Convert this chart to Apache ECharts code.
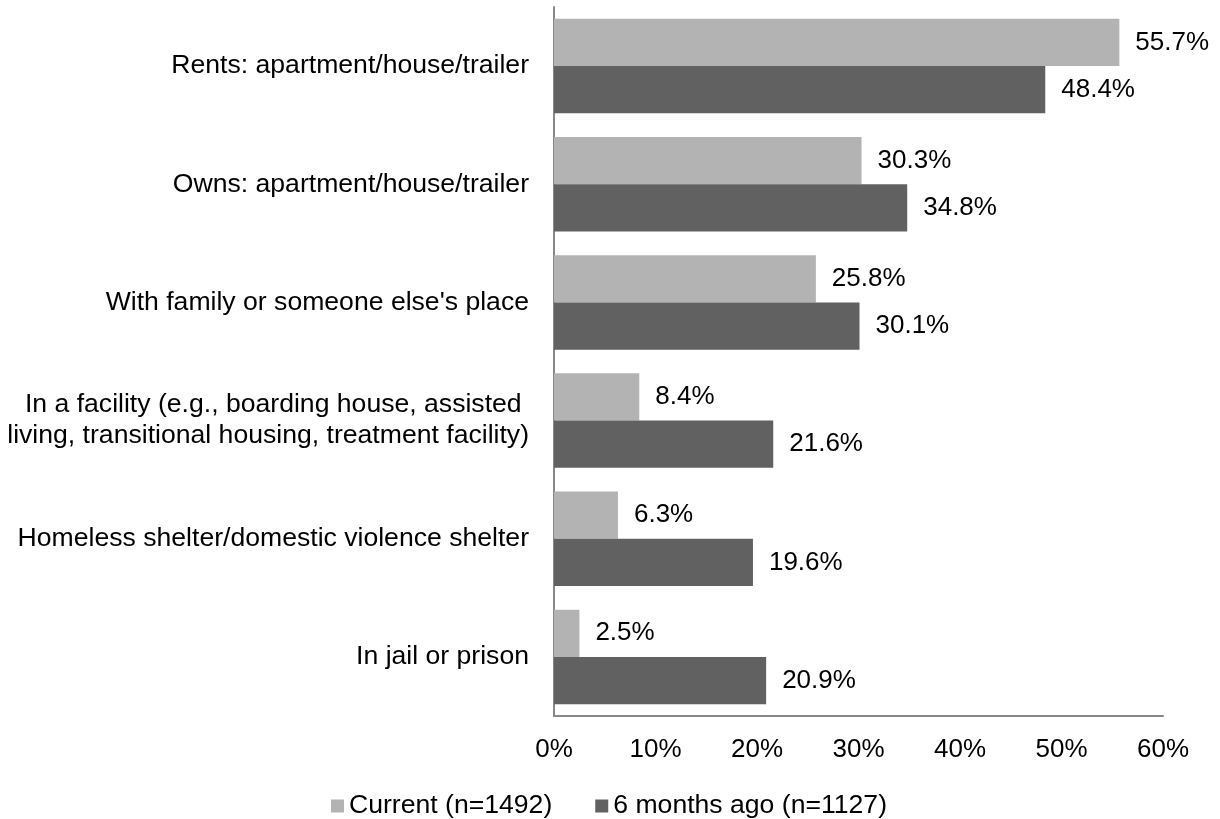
<!DOCTYPE html>
<html>
<head>
<meta charset="utf-8">
<script src="https://cdn.jsdelivr.net/npm/echarts@6/dist/echarts.min.js"></script>
<style>
  html, body { margin: 0; padding: 0; background: #fff; }
  #chart { width: 1220px; height: 819px; }
</style>
</head>
<body>
<div id="chart"></div>
<script>
// data
var categories = [
  'Rents: apartment/house/trailer',
  'Owns: apartment/house/trailer',
  "With family or someone else's place",
  'In a facility (e.g., boarding house, assisted \nliving, transitional housing, treatment facility)',
  'Homeless shelter/domestic violence shelter',
  'In jail or prison'
];
var currentVals = [55.7, 30.3, 25.8, 8.4, 6.3, 2.5];
var pastVals = [48.4, 34.8, 30.1, 21.6, 19.6, 20.9];
var seriesNames = ['Current (n=1492)', '6 months ago (n=1127)'];

var FONT = '"Liberation Sans", Arial, sans-serif';

var chart = echarts.init(document.getElementById('chart'));

function barLabel() {
  return {
    show: true,
    position: 'right',
    distance: 16,
    fontFamily: FONT,
    fontSize: 26,
    color: '#000',
    formatter: function (p) { return p.value.toFixed(1) + '%'; }
  };
}

chart.setOption({
  animation: false,
  textStyle: { fontFamily: FONT },
  grid: { left: 554, right: 57, top: 7, bottom: 103, containLabel: false },
  legend: {
    data: seriesNames,
    left: 326,
    top: 787,
    icon: 'rect',
    itemWidth: 13,
    itemHeight: 13,
    itemGap: 43,
    textStyle: { fontFamily: FONT, fontSize: 26.6, color: '#000', lineHeight: 28 }
  },
  xAxis: {
    type: 'value',
    min: 0,
    max: 60,
    interval: 10,
    axisLine: { show: true, lineStyle: { color: '#888888', width: 2 } },
    axisTick: { show: false },
    splitLine: { show: false },
    axisLabel: {
      margin: 21,
      fontFamily: FONT,
      fontSize: 26,
      color: '#000',
      formatter: '{value}%'
    }
  },
  yAxis: {
    type: 'category',
    data: categories,
    inverse: true,
    axisLine: { show: true, lineStyle: { color: '#888888', width: 2 } },
    axisTick: { show: false },
    axisLabel: {
      margin: 25,
      fontFamily: FONT,
      fontSize: 26.6,
      lineHeight: 31,
      color: '#000'
    }
  },
  series: [
    {
      name: seriesNames[0],
      type: 'bar',
      data: currentVals,
      barGap: '0%',
      barCategoryGap: '20%',
      itemStyle: { color: '#B3B3B3' },
      label: barLabel()
    },
    {
      name: seriesNames[1],
      type: 'bar',
      data: pastVals,
      barGap: '0%',
      barCategoryGap: '20%',
      itemStyle: { color: '#616161' },
      label: barLabel()
    }
  ]
});
</script>
</body>
</html>
